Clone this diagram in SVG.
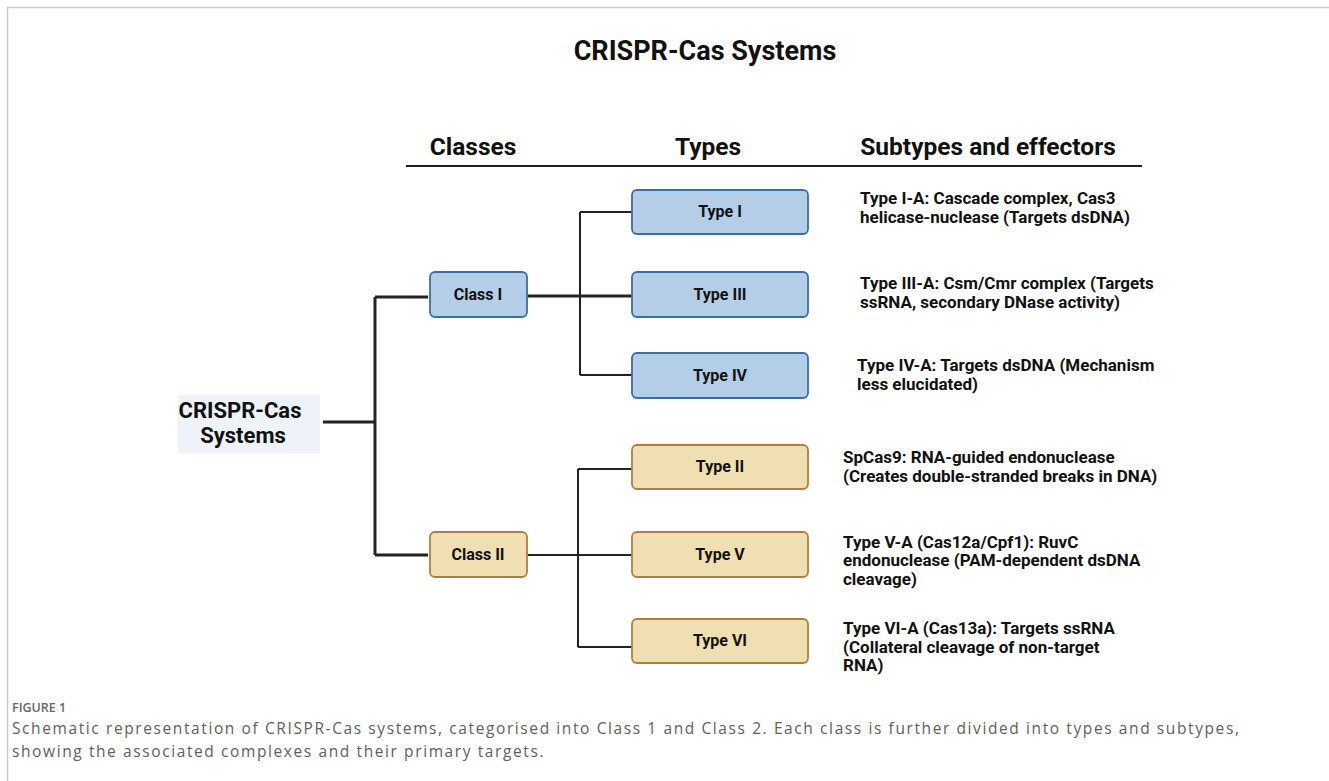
<svg xmlns="http://www.w3.org/2000/svg" width="1329" height="781" viewBox="0 0 1329 781">
<style>
.title{font-family:Roboto,"Liberation Sans",sans-serif;font-weight:bold;font-size:27px;fill:#111;text-anchor:middle}
.hdr{font-family:Roboto,"Liberation Sans",sans-serif;font-weight:bold;font-size:24.5px;fill:#111;text-anchor:middle}
.root{font-family:Roboto,"Liberation Sans",sans-serif;font-weight:bold;font-size:22px;fill:#111;text-anchor:middle}
.lbl{font-family:Roboto,"Liberation Sans",sans-serif;font-weight:bold;font-size:16px;fill:#111;text-anchor:middle}
.desc{font-family:Roboto,"Liberation Sans",sans-serif;font-weight:bold;font-size:17px;fill:#111}
.blue{fill:#b4cee8;stroke:#3b6ea6;stroke-width:1.8}
.tan{fill:#f0dfb3;stroke:#b07e3c;stroke-width:1.8}
.cap{font-family:"Open Sans","Liberation Sans",sans-serif;fill:#5e5e5e;font-size:15.5px;letter-spacing:1.6px}
.fig{font-family:"Open Sans","Liberation Sans",sans-serif;fill:#666;font-size:12.5px;font-weight:600}
.thick{stroke:#222;stroke-width:3;fill:none}
.thin{stroke:#222;stroke-width:2;fill:none}
</style>
<rect x="0" y="0" width="1329" height="781" fill="#fff"/>
<path d="M7.5 781 V7.5 H1329" fill="none" stroke="#ccc" stroke-width="1.5"/>
<text class="title" x="705" y="60">CRISPR-Cas Systems</text>
<g id="headers">
<text class="hdr" x="473" y="155">Classes</text>
<text class="hdr" x="708" y="155">Types</text>
<text class="hdr" x="988" y="155">Subtypes and effectors</text>
<line x1="406" y1="166" x2="1142" y2="166" stroke="#222" stroke-width="2"/>
</g>
<g id="connectors">
<path class="thick" d="M323 422 H376 M375 297 V555 M375 297 H428 M375 555 H428"/>
<path class="thick" d="M527 296 H632"/>
<path class="thin" d="M580 212 V375 M580 212 H632 M580 375 H632"/>
<path class="thin" d="M527 555 H632 M578 469 V647 M578 469 H632 M578 647 H632"/>
</g>
<g id="root">
<rect x="178" y="395" width="142" height="58" rx="2" fill="#eef3f9"/>
<text class="root" x="240" y="418">CRISPR-Cas</text>
<text class="root" x="243" y="443">Systems</text>
</g>
<g id="class1"><rect class="blue" x="430" y="272" width="97" height="45" rx="5"/><text class="lbl" x="478" y="300">Class I</text></g>
<g id="class2"><rect class="tan" x="430" y="532" width="97" height="45" rx="5"/><text class="lbl" x="478" y="560">Class II</text></g>
<g id="type1"><rect class="blue" x="632" y="190" width="176" height="44" rx="5"/><text class="lbl" x="720" y="217">Type I</text></g>
<g id="type3"><rect class="blue" x="632" y="272" width="176" height="45" rx="5"/><text class="lbl" x="720" y="300">Type III</text></g>
<g id="type4"><rect class="blue" x="632" y="353" width="176" height="45" rx="5"/><text class="lbl" x="720" y="381">Type IV</text></g>
<g id="type2"><rect class="tan" x="632" y="445" width="176" height="44" rx="5"/><text class="lbl" x="720" y="472">Type II</text></g>
<g id="type5"><rect class="tan" x="632" y="532" width="176" height="45" rx="5"/><text class="lbl" x="720" y="560">Type V</text></g>
<g id="type6"><rect class="tan" x="632" y="619" width="176" height="44" rx="5"/><text class="lbl" x="720" y="646">Type VI</text></g>
<g id="desc">
<text class="desc" x="860" y="204">Type I-A: Cascade complex, Cas3</text>
<text class="desc" x="860" y="223">helicase-nuclease (Targets dsDNA)</text>
<text class="desc" x="860" y="289">Type III-A: Csm/Cmr complex (Targets</text>
<text class="desc" x="860" y="308">ssRNA, secondary DNase activity)</text>
<text class="desc" x="857" y="371">Type IV-A: Targets dsDNA (Mechanism</text>
<text class="desc" x="857" y="390">less elucidated)</text>
<text class="desc" x="843" y="463">SpCas9: RNA-guided endonuclease</text>
<text class="desc" x="843" y="482">(Creates double-stranded breaks in DNA)</text>
<text class="desc" x="843" y="548">Type V-A (Cas12a/Cpf1): RuvC</text>
<text class="desc" x="843" y="566">endonuclease (PAM-dependent dsDNA</text>
<text class="desc" x="843" y="585">cleavage)</text>
<text class="desc" x="843" y="634">Type VI-A (Cas13a): Targets ssRNA</text>
<text class="desc" x="843" y="653">(Collateral cleavage of non-target</text>
<text class="desc" x="843" y="671">RNA)</text>
</g>
<g id="caption">
<text class="fig" x="12" y="712">FIGURE 1</text>
<text class="cap" x="12" y="734">Schematic representation of CRISPR-Cas systems, categorised into Class 1 and Class 2. Each class is further divided into types and subtypes,</text>
<text class="cap" x="12" y="757">showing the associated complexes and their primary targets.</text>
</g>
</svg>
